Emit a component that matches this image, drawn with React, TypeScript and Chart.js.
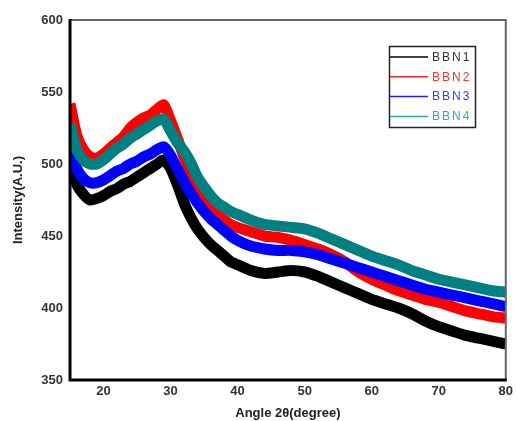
import React, { useEffect, useRef } from "react";
import { Chart, registerables } from "chart.js";

Chart.register(...registerables);

// 2θ angles (degree)
const angles = [15, 16, 17, 18, 19, 20, 21, 22, 23, 24, 25, 26, 27, 28, 29, 30, 31, 32, 33, 34, 35, 36, 37, 38, 39, 40, 42, 44, 46, 48, 50, 52, 54, 56, 58, 60, 62, 64, 66, 68, 70, 72, 74, 76, 78, 80];

const bbn1 = [502, 486, 479, 475, 476, 478, 481, 483, 486, 488, 491, 494, 497, 500, 503, 497, 486, 473, 463, 455, 449, 444, 440, 436, 432, 430, 426, 424, 425, 426, 425, 422, 418, 414, 410, 406, 403, 400, 396, 391, 387, 384, 381, 379, 377, 375];
const bbn2 = [542, 520, 510, 505, 504, 507, 511, 515, 519, 525, 529, 532, 534, 538, 541, 530, 518, 505, 495, 485, 477, 470, 465, 461, 458, 456, 453, 450, 449, 447, 444, 441, 437, 432, 425, 420, 416, 412, 409, 406, 404, 401, 398, 396, 394, 393];
const bbn3 = [512, 497, 490, 487, 487, 489, 492, 495, 497, 500, 502, 505, 507, 510, 512, 506, 497, 488, 480, 473, 467, 462, 458, 454, 450, 447, 443, 441, 440, 440, 439, 437, 434, 431, 428, 425, 422, 419, 416, 413, 411, 409, 407, 405, 403, 401];
const bbn4 = [528, 510, 503, 500, 500, 503, 507, 511, 514, 518, 521, 524, 527, 530, 531, 523, 515, 509, 501, 491, 484, 478, 473, 470, 467, 465, 461, 458, 457, 456, 455, 452, 448, 444, 440, 436, 433, 430, 426, 423, 420, 418, 416, 414, 412, 411];

const seriesNames = ["BBN1", "BBN2", "BBN3", "BBN4"];
const xTicks = [20, 30, 40, 50, 60, 70, 80];
const yTicks = [350, 400, 450, 500, 550, 600];

const FONT = "'Liberation Sans', Arial, Helvetica, sans-serif";

const toPoints = (ys: number[]) => angles.map((x, i) => ({ x, y: ys[i] }));

const framePlugin = {
  id: "frame",
  afterDatasetsDraw(chart: any) {
    const { ctx, chartArea } = chart;
    const { left, right, top, bottom } = chartArea;
    ctx.save();
    ctx.strokeStyle = "#666";
    ctx.lineWidth = 2;
    ctx.beginPath();
    ctx.moveTo(left, top);
    ctx.lineTo(right, top);
    ctx.lineTo(right, bottom);
    ctx.stroke();
    ctx.strokeStyle = "#000";
    ctx.lineWidth = 3;
    ctx.beginPath();
    ctx.moveTo(left, top - 1);
    ctx.lineTo(left, bottom);
    ctx.lineTo(right + 1, bottom);
    ctx.stroke();
    ctx.restore();
  },
};

const legendPlugin = {
  id: "boxLegend",
  afterDraw(chart: any) {
    const { ctx } = chart;
    const lineColors = ["#000000", "#ff2020", "#2020ff", "#30a0a0"];
    const textColors = ["#333333", "#ff3030", "#3a3aff", "#38a8a8"];
    const bx = 389, by = 46, bw = 86, bh = 81;
    ctx.save();
    ctx.fillStyle = "#ffffff";
    ctx.fillRect(bx, by, bw, bh);
    ctx.strokeStyle = "#222";
    ctx.lineWidth = 1.5;
    ctx.strokeRect(bx + 0.5, by + 0.5, bw, bh);
    ctx.font = `12px ${FONT}`;
    (ctx as any).letterSpacing = "2px";
    ctx.textBaseline = "middle";
    ctx.textAlign = "left";
    seriesNames.forEach((name, i) => {
      const y = 57 + i * 19.8;
      ctx.strokeStyle = lineColors[i];
      ctx.lineWidth = 1.5;
      ctx.beginPath();
      ctx.moveTo(bx + 1, y);
      ctx.lineTo(428, y);
      ctx.stroke();
      ctx.fillStyle = textColors[i];
      ctx.fillText(name, 432, y + 0.5);
    });
    ctx.restore();
  },
};

export default function App() {
  const canvasRef = useRef<HTMLCanvasElement | null>(null);

  useEffect(() => {
    if (!canvasRef.current) return;
    const colors = ["#000000", "#ff0000", "#0000ff", "#008080"];
    const series = [bbn1, bbn2, bbn3, bbn4];
    const chart = new Chart(canvasRef.current, {
      type: "line",
      data: {
        datasets: series.map((ys, i) => ({
          label: seriesNames[i],
          data: toPoints(ys),
          borderColor: colors[i],
          backgroundColor: colors[i],
          borderWidth: 11,
          pointRadius: 0,
          tension: 0.2,
          fill: false,
          order: 4 - i,
          clip: 1,
        })),
      },
      options: {
        responsive: false,
        animation: false,
        devicePixelRatio: 1,
        layout: { padding: { top: 20, right: 5, left: 0, bottom: 0 }, autoPadding: false } as any,
        plugins: { legend: { display: false }, tooltip: { enabled: false } },
        scales: {
          x: {
            type: "linear",
            min: 15,
            max: 80,
            grid: { display: false, drawTicks: false },
            border: { display: false },
            afterBuildTicks: (s: any) => {
              s.ticks = xTicks.map((v) => ({ value: v }));
            },
            afterFit: (s: any) => {
              s.height = 41;
            },
            ticks: {
              padding: 4,
              autoSkip: false,
              maxRotation: 0,
              color: "#333",
              font: { family: FONT, size: 13, weight: "bold" },
            },
            title: {
              display: true,
              text: "Angle 2θ(degree)",
              color: "#222",
              font: { family: FONT, size: 13, weight: "bold" },
              padding: { top: 0, bottom: 0 },
            },
          },
          y: {
            type: "linear",
            min: 350,
            max: 600,
            grid: { display: false, drawTicks: false },
            border: { display: false },
            afterBuildTicks: (s: any) => {
              s.ticks = yTicks.map((v) => ({ value: v }));
            },
            afterFit: (s: any) => {
              s.width = 70;
            },
            ticks: {
              padding: 7,
              color: "#333",
              font: { family: FONT, size: 13, weight: "bold" },
            },
            title: {
              display: true,
              text: "Intensity(A.U.)",
              color: "#222",
              font: { family: FONT, size: 13, weight: "bold" },
              padding: { top: 11, bottom: 0 },
            },
          },
        },
      },
      plugins: [framePlugin, legendPlugin],
    });
    return () => chart.destroy();
  }, []);

  return (
    <div style={{ position: "absolute", left: 0, top: 0, width: 517, height: 421, background: "#fff" }}>
      <canvas ref={canvasRef} width={517} height={421} style={{ display: "block" }} />
    </div>
  );
}
